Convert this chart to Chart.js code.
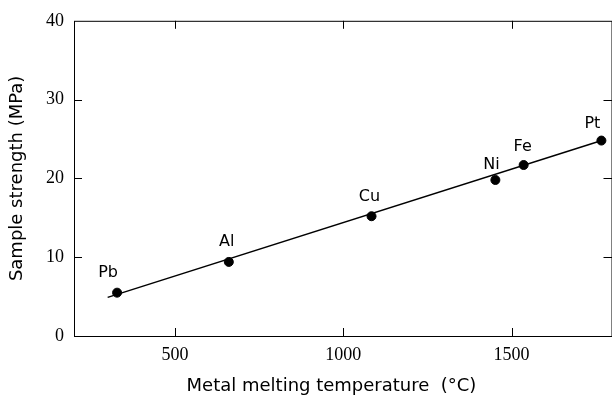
<!DOCTYPE html>
<html>
<head>
<meta charset="utf-8">
<script src="https://cdn.jsdelivr.net/npm/chart.js@4"></script>
<style>
  html, body { margin: 0; padding: 0; background: #fff; overflow: hidden; }
  #wrap { width: 612px; height: 401px; overflow: hidden; }
</style>
</head>
<body>
<div id="wrap"><canvas id="chart" width="618" height="401"></canvas></div>
<script>
// metals, melting point (°C) and sample strength (MPa)
const metals = ["Pb", "Al", "Cu", "Ni", "Fe", "Pt"];
const meltingTemp = [328, 660, 1084, 1452, 1536, 1767];
const strength = [5.5, 9.4, 15.2, 19.8, 21.7, 24.8];

// fitted straight line
const fitTemp = [300, 1775];
const fitStrength = [4.9, 24.9];

const xTicks = [500, 1000, 1500];
const yTicks = [0, 10, 20, 30, 40];

const xTitle = "Metal melting temperature  (°C)";
const yTitle = "Sample strength (MPa)";

const tickFont = { family: "'Liberation Serif', serif", size: 18 };
const titleFont = { family: "'DejaVu Sans', sans-serif", size: 18 };

// small inward ticks + frame all around the plot, x title sits a bit left of centre
const framePlugin = {
    id: "frame",
    afterDraw(chart) {
        const { ctx, chartArea: a, scales } = chart;
        ctx.save();
        ctx.strokeStyle = "#000";
        ctx.lineWidth = 1;
        ctx.strokeRect(a.left + 0.5, a.top + 0.5, a.right - a.left - 1, a.bottom - a.top);
        ctx.beginPath();
        xTicks.forEach(v => {
            const x = Math.round(scales.x.getPixelForValue(v)) + 0.5;
            ctx.moveTo(x, a.bottom); ctx.lineTo(x, a.bottom - 8);
            ctx.moveTo(x, a.top); ctx.lineTo(x, a.top + 8);
        });
        yTicks.slice(1, -1).forEach(v => {
            const y = Math.round(scales.y.getPixelForValue(v)) + 0.5;
            ctx.moveTo(a.left, y); ctx.lineTo(a.left + 8, y);
            ctx.moveTo(a.right, y); ctx.lineTo(a.right - 9, y);
        });
        ctx.stroke();

        ctx.fillStyle = "#000";
        ctx.font = "18px 'DejaVu Sans', sans-serif";
        ctx.textAlign = "center";
        ctx.textBaseline = "middle";
        ctx.fillText(xTitle, scales.x.getPixelForValue(965), 386);
        ctx.restore();
    }
};

// metal names above the dots
const labelOffsets = {
    Pb: [-9, -20], Al: [-2, -20], Cu: [-2, -19], Ni: [-4, -15], Fe: [-1, -18], Pt: [-9, -17]
};
const labelPlugin = {
    id: "metalLabels",
    afterDatasetsDraw(chart) {
        const { ctx, scales } = chart;
        ctx.save();
        ctx.fillStyle = "#000";
        ctx.font = "16px 'DejaVu Sans', sans-serif";
        ctx.textAlign = "center";
        ctx.textBaseline = "middle";
        metals.forEach((m, i) => {
            const x = scales.x.getPixelForValue(meltingTemp[i]);
            const y = scales.y.getPixelForValue(strength[i]);
            const [dx, dy] = labelOffsets[m];
            ctx.fillText(m, x + dx, y + dy);
        });
        ctx.restore();
    }
};

new Chart(document.getElementById("chart"), {
    type: "scatter",
    data: {
        datasets: [
            {
                label: "fit",
                data: fitTemp.map((t, i) => ({ x: t, y: fitStrength[i] })),
                showLine: true,
                borderColor: "#000",
                borderWidth: 1.5,
                pointRadius: 0,
                order: 2,
            },
            {
                label: "metals",
                data: meltingTemp.map((t, i) => ({ x: t, y: strength[i] })),
                backgroundColor: "#000",
                borderColor: "#000",
                pointRadius: 4.5,
                order: 1,
            },
        ],
    },
    options: {
        responsive: false,
        animation: false,
        layout: { padding: { top: 17, right: 0, left: 0, bottom: 0 } },
        plugins: { legend: { display: false }, tooltip: { enabled: false } },
        scales: {
            x: {
                type: "linear",
                min: 200,
                max: 1800,
                afterBuildTicks: s => { s.ticks = xTicks.map(v => ({ value: v })); },
                afterFit: s => { s.height = 65; s.paddingLeft = 0; s.paddingRight = 0; },
                grid: { display: false, drawTicks: false },
                border: { display: false },
                ticks: { color: "#000", font: tickFont, padding: 8, callback: v => String(v) },
            },
            y: {
                type: "linear",
                min: 0,
                max: 40,
                afterBuildTicks: s => { s.ticks = yTicks.map(v => ({ value: v })); },
                afterFit: s => { s.width = 74; },
                grid: { display: false, drawTicks: false },
                border: { display: false },
                ticks: { color: "#000", font: tickFont, padding: 10, callback: v => String(v) },
                title: {
                    display: true,
                    text: yTitle,
                    color: "#000",
                    font: titleFont,
                    padding: { top: 7, bottom: 0 },
                },
            },
        },
    },
    plugins: [framePlugin, labelPlugin],
});
</script>
</body>
</html>
